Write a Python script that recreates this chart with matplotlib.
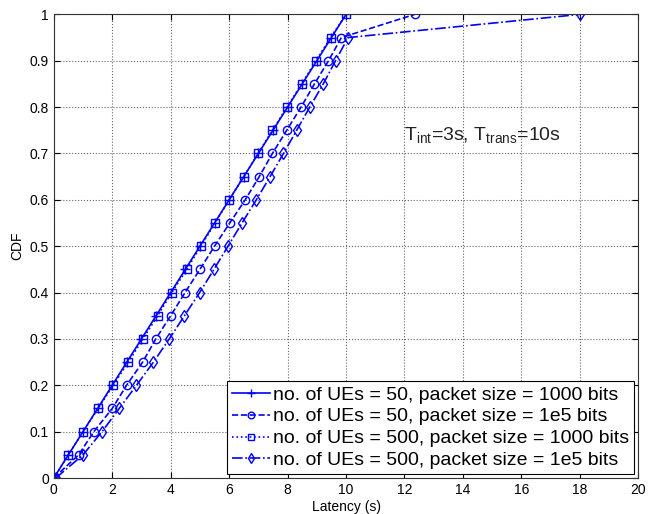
import numpy as np
import matplotlib
matplotlib.use('Agg')
import matplotlib.pyplot as plt

plt.rcParams['font.family'] = ['Liberation Sans', 'DejaVu Sans']
plt.rcParams['mathtext.fontset'] = 'custom'
plt.rcParams['mathtext.rm'] = 'Liberation Sans'
plt.rcParams['mathtext.it'] = 'Liberation Sans'

# CDF levels shared by all curves
cdf = [0, 0.05, 0.1, 0.15, 0.2, 0.25, 0.3, 0.35, 0.4, 0.45, 0.5,
       0.55, 0.6, 0.65, 0.7, 0.75, 0.8, 0.85, 0.9, 0.95, 1.0]

# latency (s) at each CDF level
lat_50_1000 = [0, 0.5, 1.0, 1.5, 2.0, 2.5, 3.0, 3.5, 4.0, 4.5, 5.0,
               5.5, 6.0, 6.5, 7.0, 7.5, 8.0, 8.5, 9.0, 9.5, 10.0]
lat_50_1e5 = [0, 0.85, 1.37, 2.0, 2.49, 3.04, 3.49, 4.0, 4.49, 5.0, 5.5,
              6.02, 6.55, 7.03, 7.48, 7.97, 8.46, 8.92, 9.4, 9.84, 12.35]
lat_500_1000 = [0, 0.5, 1.0, 1.52, 2.03, 2.55, 3.05, 3.55, 4.04, 4.55, 5.03,
                5.52, 6.0, 6.5, 6.99, 7.48, 7.98, 8.48, 8.97, 9.47, 10.0]
lat_500_1e5 = [0.07, 1.0, 1.65, 2.24, 2.83, 3.41, 3.95, 4.47, 4.99, 5.48, 5.96,
               6.44, 6.93, 7.4, 7.86, 8.31, 8.76, 9.22, 9.64, 10.07, 18.0]

labels = ['no. of UEs = 50, packet size = 1000 bits',
          'no. of UEs = 50, packet size = 1e5 bits',
          'no. of UEs = 500, packet size = 1000 bits',
          'no. of UEs = 500, packet size = 1e5 bits']

fig = plt.figure(figsize=(6.48, 5.14), dpi=100)
ax = fig.add_axes([0.083, 0.07, 0.902, 0.902])

blue = (0, 0, 1)
ax.plot(lat_50_1000, cdf, '-', marker='+', color=blue, lw=1.2, ms=7, label=labels[0])
ax.plot(lat_50_1e5, cdf, '--', marker='o', color=blue, lw=1.2, ms=6,
        mfc='none', label=labels[1])
ax.plot(lat_500_1000, cdf, ':', marker='s', color=blue, lw=1.2, ms=5.5,
        mfc='none', label=labels[2])
ax.plot(lat_500_1e5, cdf, '-.', marker='d', color=blue, lw=1.2, ms=6,
        mfc='none', label=labels[3])

ax.set_xlim(0, 20)
ax.set_ylim(0, 1)
ax.set_xticks(np.arange(0, 21, 2))
ax.set_yticks(np.arange(0, 1.01, 0.1))
ax.set_yticklabels(['0'] + ['%.1f' % v for v in np.arange(0.1, 0.95, 0.1)] + ['1'])
ax.tick_params(direction='in', labelsize=10, length=4, top=True, right=True)
ax.grid(True, linestyle=':', color='#666666', lw=0.8)
for s in ax.spines.values():
    s.set_color('#333333')
    s.set_linewidth(0.8)

ax.set_xlabel('Latency (s)', fontsize=10, labelpad=2)
ax.set_ylabel('CDF', fontsize=10, labelpad=4)

ax.text(12.0, 0.74, r'T$_{\mathregular{int}}$=3s, T$_{\mathregular{trans}}$=10s', fontsize=14,
        color='#222222', va='center')

leg = ax.legend(loc='lower right', fontsize=14, handlelength=2.0, handletextpad=0.15,
                borderaxespad=0.2, labelspacing=0.22, borderpad=0.25, fancybox=False,
                edgecolor='black', framealpha=1, markerscale=0.8)
leg.get_frame().set_linewidth(0.8)

fig.savefig('out.png', dpi=100)
